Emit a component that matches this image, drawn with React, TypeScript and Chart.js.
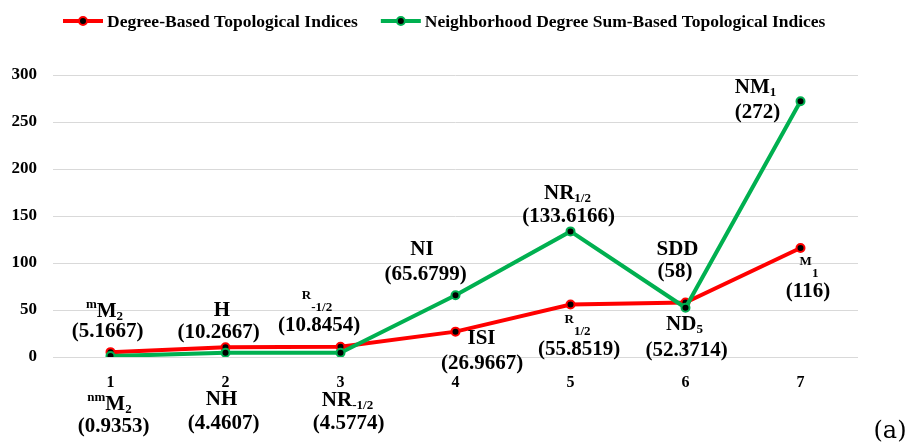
import React, { useEffect, useRef } from "react";
import { Chart, registerables } from "chart.js";

Chart.register(...registerables);

// ---------- data ----------
const categories = ["1", "2", "3", "4", "5", "6", "7"];
const seriesNames = [
  "Degree-Based Topological Indices",
  "Neighborhood Degree Sum-Based Topological Indices",
];
const degreeBased = [5.1667, 10.2667, 10.8454, 26.9667, 55.8519, 58, 116];
const neighborhoodBased = [0.9353, 4.4607, 4.5774, 65.6799, 133.6166, 52.3714, 272];
const degreeNames = ["^{m}M_{2}", "H", "^{R}_{-1/2}", "ISI", "^{R}_{1/2}", "SDD", "^{M}_{1}"];
const neighborhoodNames = ["^{nm}M_{2}", "NH", "NR_{-1/2}", "NI", "NR_{1/2}", "ND_{5}", "NM_{1}"];
const yTicks = [0, 50, 100, 150, 200, 250, 300];
const panelTag = "(a)";

// ---------- layout (label offsets from the point: nameDx, nameDy, valueDx, valueDy) ----------
const degreeLabelOffsets = [
  [-6, -41, -3, -21],
  [-3.5, -37, -7, -15],
  [-23.5, -44, -21.5, -21],
  [26, 7, 26.5, 32],
  [7, 22.5, 8.5, 45.5],
  [-8, -53, -10.5, -31],
  [8.5, 21, 7.5, 43.5],
];
const neighborhoodLabelOffsets = [
  [-1, 48.5, 3, 70.5],
  [-4, 47, -2, 71],
  [7, 48, 8, 71],
  [-33.5, -46, -30, -21],
  [-3, -38, -2, -15],
  [-1, 17, 1, 43],
  [-45, -14, -43, 11],
];

const RED = "#FF0000";
const GREEN = "#00B050";
const SERIF = '"Liberation Serif", "Times New Roman", serif';
const MAIN_FONT = `bold 21px ${SERIF}`;
const SMALL_FONT = `bold 13px ${SERIF}`;

type Seg = { t: string; k: "n" | "sup" | "sub" };

function parseRich(s: string): Seg[] {
  const segs: Seg[] = [];
  let i = 0;
  const isMark = (j: number) => (s[j] === "^" || s[j] === "_") && s[j + 1] === "{";
  while (i < s.length) {
    if (isMark(i)) {
      const end = s.indexOf("}", i);
      segs.push({ t: s.slice(i + 2, end), k: s[i] === "^" ? "sup" : "sub" });
      i = end + 1;
    } else {
      let j = i;
      while (j < s.length && !isMark(j)) j++;
      segs.push({ t: s.slice(i, j), k: "n" });
      i = j;
    }
  }
  return segs;
}

function drawRich(ctx: CanvasRenderingContext2D, s: string, cx: number, cy: number) {
  const segs = parseRich(s);
  let w = 0;
  const widths = segs.map((g) => {
    ctx.font = g.k === "n" ? MAIN_FONT : SMALL_FONT;
    const m = ctx.measureText(g.t).width;
    w += m;
    return m;
  });
  let x = cx - w / 2;
  ctx.textAlign = "left";
  ctx.textBaseline = "middle";
  segs.forEach((g, idx) => {
    ctx.font = g.k === "n" ? MAIN_FONT : SMALL_FONT;
    const dy = g.k === "sup" ? -7 : g.k === "sub" ? 5 : 0;
    ctx.fillText(g.t, x, cy + dy);
    x += widths[idx];
  });
}

const labelPlugin = {
  id: "richPointLabels",
  afterDatasetsDraw(chart: any) {
    const ctx: CanvasRenderingContext2D = chart.ctx;
    const xs = chart.scales.x;
    const ys = chart.scales.y;
    ctx.save();
    ctx.fillStyle = "#000";
    const groups = [
      { vals: degreeBased, names: degreeNames, offs: degreeLabelOffsets },
      { vals: neighborhoodBased, names: neighborhoodNames, offs: neighborhoodLabelOffsets },
    ];
    groups.forEach((g) => {
      g.vals.forEach((v, i) => {
        const px = xs.getPixelForValue(i);
        const py = ys.getPixelForValue(v);
        const o = g.offs[i];
        drawRich(ctx, g.names[i], px + o[0], py + o[1]);
        drawRich(ctx, `(${v})`, px + o[2], py + o[3]);
      });
    });
    // panel tag
    ctx.font = `24px "DejaVu Serif", serif`;
    ctx.textAlign = "center";
    ctx.textBaseline = "middle";
    ctx.fillText(panelTag, chart.width - 19, chart.height - 15);
    ctx.restore();
  },
};

const legendPlugin = {
  id: "lineDotLegend",
  afterDraw(chart: any) {
    const ctx: CanvasRenderingContext2D = chart.ctx;
    ctx.save();
    ctx.font = `bold 17.5px ${SERIF}`;
    ctx.textBaseline = "middle";
    ctx.textAlign = "left";
    const colors = [RED, GREEN];
    const y = 21;
    let x = 63;
    seriesNames.forEach((name, i) => {
      ctx.strokeStyle = colors[i];
      ctx.lineWidth = 4;
      ctx.beginPath();
      ctx.moveTo(x, y);
      ctx.lineTo(x + 40, y);
      ctx.stroke();
      ctx.beginPath();
      ctx.arc(x + 20, y, 4, 0, Math.PI * 2);
      ctx.fillStyle = "#000";
      ctx.fill();
      ctx.lineWidth = 2;
      ctx.strokeStyle = colors[i];
      ctx.stroke();
      ctx.fillStyle = "#000";
      ctx.fillText(name, x + 44, y + 1);
      x += 44 + ctx.measureText(name).width + 23;
    });
    ctx.restore();
  },
};

export default function App() {
  const ref = useRef<HTMLCanvasElement | null>(null);
  useEffect(() => {
    if (!ref.current) return;
    const mk = (data: number[], color: string, order: number, label: string) => ({
      label,
      data,
      borderColor: color,
      backgroundColor: color,
      borderWidth: 4,
      tension: 0,
      pointRadius: 4,
      pointBorderWidth: 2,
      pointBackgroundColor: "#000",
      pointBorderColor: color,
      order,
    });
    const chart = new Chart(ref.current, {
      type: "line",
      data: {
        labels: categories,
        datasets: [
          mk(degreeBased, RED, 1, seriesNames[0]),
          mk(neighborhoodBased, GREEN, 0, seriesNames[1]),
        ],
      },
      options: {
        responsive: false,
        animation: false,
        devicePixelRatio: 1,
        layout: { padding: { top: 75, right: 51, left: 0, bottom: 0 } },
        plugins: {
          legend: { display: false },
          tooltip: { enabled: false },
        },
        scales: {
          x: {
            type: "category",
            offset: true,
            grid: { display: false, drawTicks: false },
            border: { display: false },
            ticks: {
              color: "#000",
              padding: 16,
              font: { family: SERIF, size: 16, weight: "bold" },
            },
            afterFit: (s: any) => {
              s.height = 90;
            },
          },
          y: {
            min: 0,
            max: 300,
            grid: { color: "#d9d9d9", lineWidth: 1, drawTicks: false },
            border: { display: false },
            ticks: {
              color: "#000",
              padding: 16,
              font: { family: SERIF, size: 17, weight: "bold" },
            },
            afterBuildTicks: (s: any) => {
              s.ticks = yTicks.map((v) => ({ value: v }));
            },
            afterFit: (s: any) => {
              s.width = 53;
            },
          },
        },
      },
      plugins: [labelPlugin, legendPlugin],
    } as any);
    return () => chart.destroy();
  }, []);
  return (
    <div style={{ position: "absolute", left: 0, top: 0, width: 909, height: 447, background: "#fff" }}>
      <canvas ref={ref} width={909} height={447} />
    </div>
  );
}
